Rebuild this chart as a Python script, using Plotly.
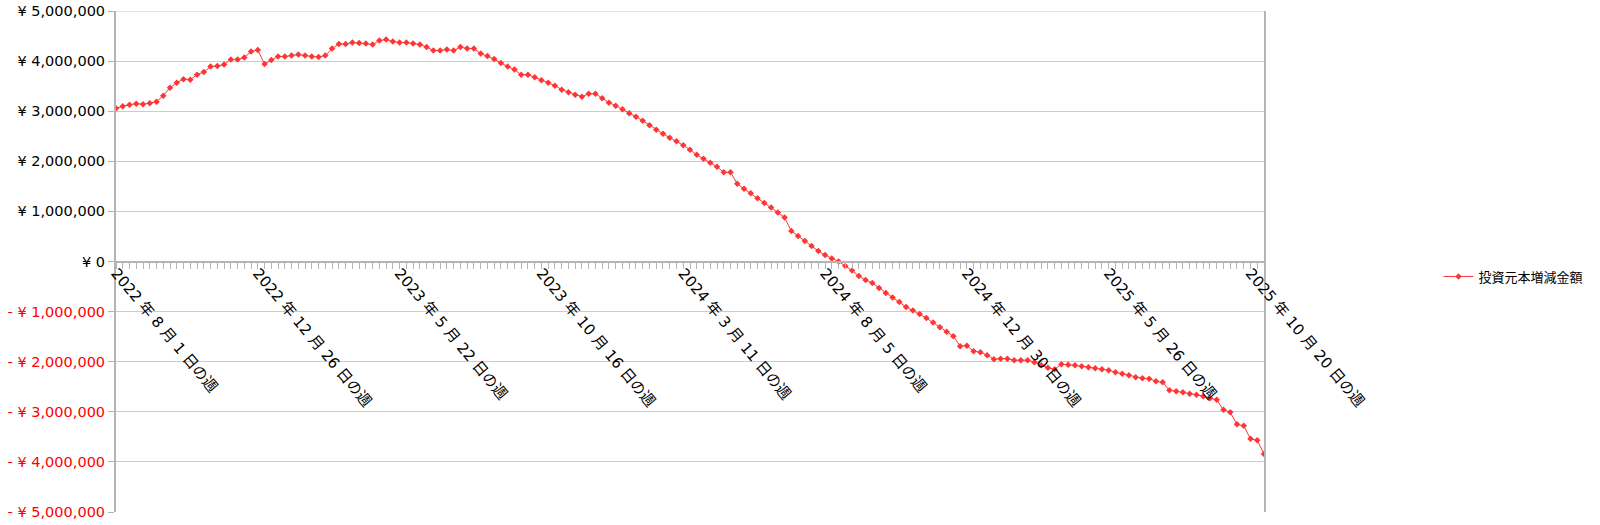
import plotly.graph_objects as go
import pandas as pd

# Weekly categories (week start dates)
weeks = pd.date_range("2022-08-01", periods=171, freq="7D")

# 投資元本増減金額 (in million yen)
values_m = [
    3.06, 3.10, 3.13, 3.15, 3.14, 3.16, 3.19, 3.31, 3.47, 3.57,
    3.64, 3.63, 3.73, 3.78, 3.89, 3.90, 3.93, 4.03, 4.03, 4.07,
    4.19, 4.22, 3.94, 4.02, 4.09, 4.09, 4.11, 4.13, 4.11, 4.09,
    4.08, 4.11, 4.25, 4.34, 4.34, 4.37, 4.36, 4.35, 4.33, 4.41,
    4.43, 4.39, 4.37, 4.37, 4.35, 4.33, 4.28, 4.21, 4.21, 4.23,
    4.21, 4.28, 4.25, 4.25, 4.15, 4.10, 4.04, 3.96, 3.89, 3.83,
    3.73, 3.73, 3.68, 3.62, 3.57, 3.51, 3.43, 3.38, 3.33, 3.29,
    3.35, 3.35, 3.26, 3.17, 3.11, 3.04, 2.96, 2.89, 2.81, 2.72,
    2.63, 2.55, 2.47, 2.40, 2.32, 2.23, 2.13, 2.05, 1.97, 1.89,
    1.78, 1.78, 1.55, 1.45, 1.36, 1.26, 1.17, 1.08, 0.98, 0.88,
    0.61, 0.51, 0.41, 0.31, 0.21, 0.13, 0.06, 0.00, -0.09, -0.18,
    -0.29, -0.37, -0.43, -0.53, -0.63, -0.72, -0.81, -0.91, -0.98, -1.05,
    -1.13, -1.22, -1.31, -1.40, -1.49, -1.69, -1.68, -1.79, -1.81, -1.87,
    -1.95, -1.94, -1.94, -1.97, -1.97, -1.97, -2.01, -2.07, -2.12, -2.15,
    -2.05, -2.06, -2.07, -2.09, -2.11, -2.13, -2.15, -2.17, -2.21, -2.24,
    -2.27, -2.31, -2.33, -2.34, -2.39, -2.41, -2.57, -2.59, -2.61, -2.64,
    -2.66, -2.69, -2.73, -2.76, -2.96, -3.01, -3.25, -3.28, -3.54, -3.57,
    -3.84,
]
values = [round(v * 1_000_000) for v in values_m]

series_name = "投資元本増減金額"

# x tick labels
x_tick_dates = ["2022-08-01", "2022-12-26", "2023-05-22", "2023-10-16", "2024-03-11",
                "2024-08-05", "2024-12-30", "2025-05-26", "2025-10-20"]
x_tick_text = ["2022 年 8 月 1 日の週", "2022 年 12 月 26 日の週", "2023 年 5 月 22 日の週",
               "2023 年 10 月 16 日の週", "2024 年 3 月 11 日の週", "2024 年 8 月 5 日の週",
               "2024 年 12 月 30 日の週", "2025 年 5 月 26 日の週", "2025 年 10 月 20 日の週"]

# y tick labels
y_max, y_min = 5e6, -5e6
y_tick_vals = [5e6, 4e6, 3e6, 2e6, 1e6, 0, -1e6, -2e6, -3e6, -4e6, -5e6]
y_tick_text = ["¥ 5,000,000", "¥ 4,000,000", "¥ 3,000,000", "¥ 2,000,000", "¥ 1,000,000", "¥ 0",
               "- ¥ 1,000,000", "- ¥ 2,000,000", "- ¥ 3,000,000", "- ¥ 4,000,000", "- ¥ 5,000,000"]
y_tick_html = [f"<span style='color:#ff0000'>{t}</span>" if t.startswith("-") else t for t in y_tick_text]

FONT = "DejaVu Sans, Noto Sans CJK JP, sans-serif"
RED = "#ff3535"
GRID = "#cccccc"
AXIS = "#b4b4b4"

fig = go.Figure()
fig.add_trace(go.Scatter(
    x=weeks, y=values, name=series_name, mode="lines+markers",
    line=dict(color=RED, width=1),
    marker=dict(symbol="diamond", size=5, color=RED),
))

# top gridline (at the edge of the plot area)
fig.add_shape(type="line", xref="paper", yref="y", x0=0, x1=1, y0=y_max, y1=y_max,
              line=dict(color=GRID, width=1), layer="below")

fig.update_layout(
    width=1600, height=525,
    margin=dict(l=116, r=336, t=11, b=13, autoexpand=False),
    paper_bgcolor="white", plot_bgcolor="white",
    font=dict(family=FONT, size=14, color="#000000"),
    showlegend=True,
    legend=dict(x=1.152, xanchor="left", y=0.47, yanchor="middle",
                font=dict(family="Noto Sans CJK JP, sans-serif", size=13, color="#000000"),
                bgcolor="rgba(0,0,0,0)"),
    xaxis=dict(
        range=[weeks[0], weeks[-1]],
        anchor="free", position=0.5, automargin=False,
        showgrid=False, zeroline=False,
        showline=True, linecolor=AXIS, linewidth=2,
        tickmode="array", tickvals=x_tick_dates, ticktext=x_tick_text,
        tickangle=50, ticks="outside", ticklen=6, tickcolor=AXIS,
        ticklabelstandoff=-10,
        minor=dict(dtick=7 * 86400000, tick0="2022-08-01", ticks="outside",
                   ticklen=6, tickcolor=AXIS, showgrid=False),
        tickfont=dict(family=FONT, size=15, color="#000000"),
    ),
    yaxis=dict(
        range=[y_min - 10, y_max + 10], automargin=False,
        tickmode="array", tickvals=y_tick_vals, ticktext=y_tick_html,
        showgrid=True, gridcolor=GRID, gridwidth=1,
        zeroline=False,
        showline=True, linecolor=AXIS, linewidth=2, mirror=True,
        ticks="outside", ticklen=6, tickcolor=AXIS,
        ticklabelstandoff=0,
        tickfont=dict(family=FONT, size=14.5, color="#000000"),
    ),
)

# remove the browser's default 8px body margin so the figure fills the window exactly
fig.write_html("out.html", config={"displayModeBar": False},
               post_script="document.body.style.margin='0';document.body.style.overflow='hidden';")
